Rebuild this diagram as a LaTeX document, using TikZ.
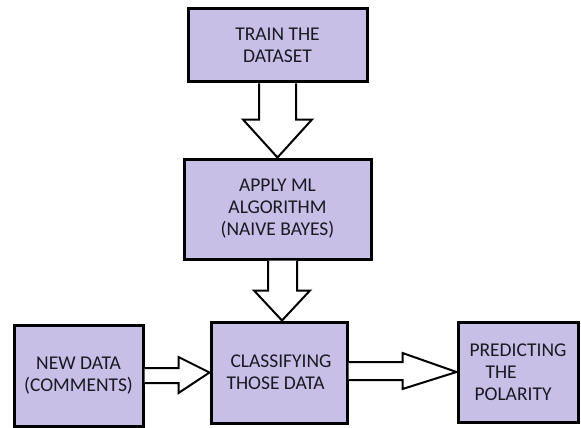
\documentclass[tikz,border=0pt]{standalone}
\usepackage{fontspec}
\setmainfont{Carlito}
\usetikzlibrary{calc}
\definecolor{boxfill}{RGB}{200,191,231}
\definecolor{txt}{RGB}{25,25,35}
\begin{document}
\begin{tikzpicture}[x=1pt,y=-1pt,
  box/.style={draw=black, line width=3pt, fill=boxfill, rectangle, inner sep=0pt,
    align=center, text=txt, font=\fontsize{19.5}{22}\selectfont},
  barrow/.style={draw=black, fill=white, line width=2pt, line join=miter}]
\useasboundingbox (0,0) rectangle (581,428);
\node[box, minimum width=179pt, minimum height=73pt] (train) at (277.5,45.5) {\raisebox{-4pt}{\parbox{120pt}{\centering TRAIN THE\\DATASET}}};
\node[box, minimum width=187pt, minimum height=100pt] (apply) at (277.5,209) {APPLY ML\\ALGORITHM\\(NAIVE BAYES)};
\node[box, minimum width=129pt, minimum height=101pt] (new) at (78.5,375.5) {\raisebox{4pt}{\parbox{125pt}{\centering NEW DATA\\(COMMENTS)}}};
\node[box, minimum width=136pt, minimum height=101pt, align=left] (class) at (279,372.5) {\hspace*{4pt}CLASSIFYING\\THOSE DATA};
\node[box, minimum width=120pt, minimum height=100pt, align=left] (pred) at (518,372) {PREDICTING\\\hspace*{16pt}THE\\\hspace*{5pt}POLARITY};
% block arrow train -> apply
\draw[barrow] ($(train.south)+(-18.5,0)$) -- ($(train.south)+(-18.5,36)$) -- ($(train.south)+(-34.5,36)$)
  -- (apply.north) -- ($(train.south)+(34.5,36)$) -- ($(train.south)+(18.5,36)$) -- ($(train.south)+(18.5,0)$);
% block arrow apply -> class
\draw[barrow] ($(apply.south)+(-9.5,0)$) -- ($(apply.south)+(-9.5,30)$) -- ($(apply.south)+(-23.5,30)$)
  -- ($(class.north)+(3,0)$) -- ($(apply.south)+(32.5,30)$) -- ($(apply.south)+(19.5,30)$) -- ($(apply.south)+(19.5,0)$);
% block arrow new -> class
\draw[barrow] ($(new.east)+(0,-7.5)$) -- ($(new.east)+(34,-7.5)$) -- ($(new.east)+(34,-18.5)$)
  -- (class.west) -- ($(new.east)+(34,17.5)$) -- ($(new.east)+(34,7.5)$) -- ($(new.east)+(0,7.5)$);
% block arrow class -> pred
\draw[barrow] ($(class.east)+(0,-10.5)$) -- ($(class.east)+(54,-10.5)$) -- ($(class.east)+(54,-19.5)$)
  -- (pred.west) -- ($(class.east)+(54,16.5)$) -- ($(class.east)+(54,7.5)$) -- ($(class.east)+(0,7.5)$);
\end{tikzpicture}
\end{document}
